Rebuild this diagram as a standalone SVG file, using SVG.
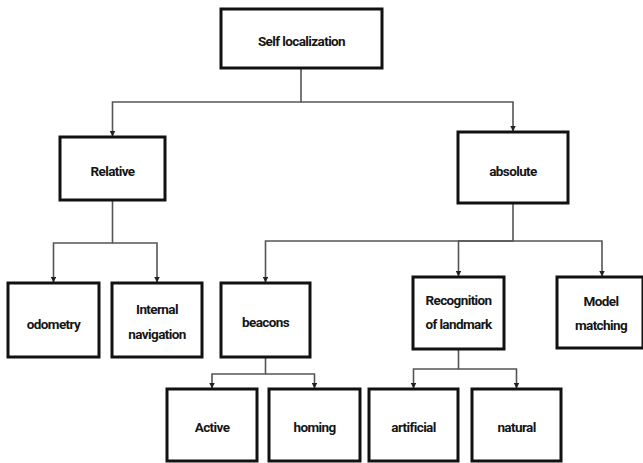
<svg xmlns="http://www.w3.org/2000/svg" width="643" height="463" viewBox="0 0 643 463">
  <style>
    .box { fill: #ffffff; stroke: #111111; stroke-width: 3; }
    .lbl { font-family: Roboto, "Liberation Sans", sans-serif; font-weight: 700; font-size: 13.5px; fill: #151515; text-anchor: middle; letter-spacing: -0.6px; }
    .wire { fill: none; stroke: #555555; stroke-width: 1.6; }
  </style>
  <defs>
    <marker id="arrow" viewBox="0 0 10 10" refX="9" refY="5" markerWidth="5.5" markerHeight="5.5" orient="auto" markerUnits="userSpaceOnUse">
      <path d="M0,0 L10,5 L0,10 Z" fill="#222222"/>
    </marker>
  </defs>
  <rect width="643" height="463" fill="#ffffff"/>

  <g id="connectors">
    <!-- root split -->
    <path class="wire" d="M301,68 V102 H112.5 V136" marker-end="url(#arrow)"/>
    <path class="wire" d="M301,102 H513 V131" marker-end="url(#arrow)"/>
    <!-- relative split -->
    <path class="wire" d="M112.5,200 V243 H53.5 V282" marker-end="url(#arrow)"/>
    <path class="wire" d="M112.5,243 H157 V282" marker-end="url(#arrow)"/>
    <!-- absolute split -->
    <path class="wire" d="M513,203 V241 H265.5 V282" marker-end="url(#arrow)"/>
    <path class="wire" d="M513,241 H458.5 V276" marker-end="url(#arrow)"/>
    <path class="wire" d="M513,241 H602 V276" marker-end="url(#arrow)"/>
    <!-- beacons split -->
    <path class="wire" d="M265.5,357 V374 H212 V388" marker-end="url(#arrow)"/>
    <path class="wire" d="M265.5,374 H314.5 V388" marker-end="url(#arrow)"/>
    <!-- landmark split -->
    <path class="wire" d="M458.5,349 V369 H413.5 V388" marker-end="url(#arrow)"/>
    <path class="wire" d="M458.5,369 H516.5 V388" marker-end="url(#arrow)"/>
  </g>

  <g id="self-localization">
    <rect class="box" x="221" y="9" width="161" height="59"/>
    <text class="lbl" x="301.5" y="46">Self localization</text>
  </g>
  <g id="relative">
    <rect class="box" x="60" y="137" width="105" height="63"/>
    <text class="lbl" x="112.5" y="176">Relative</text>
  </g>
  <g id="absolute">
    <rect class="box" x="458" y="132" width="110" height="71"/>
    <text class="lbl" x="513" y="176">absolute</text>
  </g>
  <g id="odometry">
    <rect class="box" x="8" y="283" width="91" height="74"/>
    <text class="lbl" x="53.5" y="329">odometry</text>
  </g>
  <g id="internal-navigation">
    <rect class="box" x="112" y="283" width="90" height="74"/>
    <text class="lbl" x="157" y="314">Internal</text>
    <text class="lbl" x="157" y="339">navigation</text>
  </g>
  <g id="beacons">
    <rect class="box" x="221" y="283" width="89" height="74"/>
    <text class="lbl" x="265.5" y="327">beacons</text>
  </g>
  <g id="recognition-of-landmark">
    <rect class="box" x="413" y="277" width="91" height="72"/>
    <text class="lbl" x="458.5" y="305">Recognition</text>
    <text class="lbl" x="458.5" y="329">of landmark</text>
  </g>
  <g id="model-matching">
    <rect class="box" x="557" y="277" width="86" height="71"/>
    <text class="lbl" x="601" y="306">Model</text>
    <text class="lbl" x="601" y="330">matching</text>
  </g>
  <g id="active">
    <rect class="box" x="167" y="389" width="90" height="72"/>
    <text class="lbl" x="212" y="432">Active</text>
  </g>
  <g id="homing">
    <rect class="box" x="269" y="389" width="91" height="72"/>
    <text class="lbl" x="314.5" y="432">homing</text>
  </g>
  <g id="artificial">
    <rect class="box" x="369" y="389" width="89" height="72"/>
    <text class="lbl" x="413.5" y="432">artificial</text>
  </g>
  <g id="natural">
    <rect class="box" x="472" y="389" width="89" height="72"/>
    <text class="lbl" x="516.5" y="432">natural</text>
  </g>
</svg>
